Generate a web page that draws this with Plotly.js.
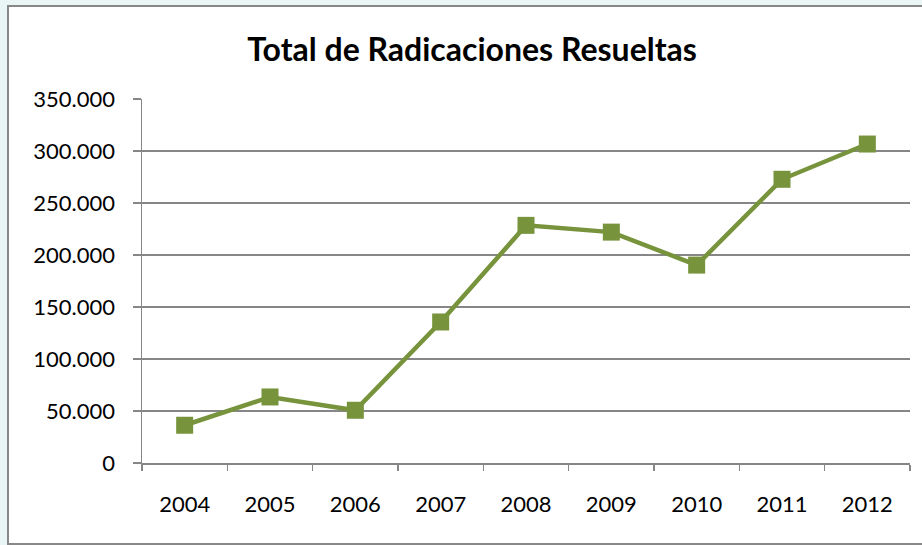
<!DOCTYPE html>
<html>
<head>
<meta charset="utf-8">
<script src="https://cdn.plot.ly/plotly-3.0.1.min.js"></script>
<style>html,body{margin:0;padding:0;background:#EAF6F6;}#chart{width:922px;height:545px;}</style>
</head>
<body>
<div id="chart"></div>
<script>
const years = ["2004","2005","2006","2007","2008","2009","2010","2011","2012"];
const resueltas = [36300, 63500, 50700, 135600, 228500, 222000, 190300, 272800, 306700];
const yTicks = [0, 50000, 100000, 150000, 200000, 250000, 300000, 350000];
const chartTitle = "Total de Radicaciones Resueltas";

const trace = {
  x: years,
  y: resueltas,
  type: "scatter",
  mode: "lines+markers",
  line: {color: "#77933C", width: 4.5},
  marker: {symbol: "square", size: 17, color: "#77933C"},
  hoverinfo: "x+y"
};

const layout = {
  width: 922,
  height: 545,
  paper_bgcolor: "#EAF6F6",
  plot_bgcolor: "#FFFFFF",
  separators: ",.",
  margin: {l: 142, r: 12, t: 99, b: 82, pad: 0},
  font: {family: "Lato, 'Open Sans', sans-serif", size: 22, color: "#000000"},
  title: {
    text: "<b>" + chartTitle + "</b>",
    font: {family: "Lato, 'Open Sans', sans-serif", size: 32, color: "#000000"},
    x: 0.512, xanchor: "center", xref: "container",
    y: 47, yref: "container", yanchor: "middle"
  },
  showlegend: false,
  xaxis: {
    type: "category",
    range: [-0.5, years.length - 0.5],
    autorange: false,
    tickson: "boundaries",
    ticks: "outside",
    ticklen: 6,
    tickwidth: 1.5,
    tickcolor: "#868686",
    showline: true,
    linecolor: "#868686",
    linewidth: 1.5,
    showgrid: false,
    zeroline: false,
    ticklabelstandoff: 21,
    tickfont: {size: 22},
    fixedrange: true
  },
  yaxis: {
    range: [0, 350000],
    autorange: false,
    tickvals: yTicks,
    tickformat: ",d",
    ticks: "outside",
    ticklen: 8,
    tickwidth: 1.5,
    tickcolor: "#868686",
    showline: true,
    linecolor: "#868686",
    linewidth: 1.5,
    showgrid: true,
    gridcolor: "#868686",
    gridwidth: 1.5,
    zeroline: false,
    ticklabelstandoff: 13,
    tickfont: {size: 22},
    fixedrange: true
  },
  shapes: [{
    type: "rect", xref: "paper", yref: "paper", layer: "below",
    x0: (8 - 142) / 768, x1: (940 - 142) / 768,
    y0: (463 - 544) / 364, y1: 1 + (99 - 6) / 364,
    fillcolor: "#FFFFFF",
    line: {color: "#888888", width: 2}
  }]
};

Plotly.newPlot("chart", [trace], layout, {displayModeBar: false, staticPlot: true});
</script>
</body>
</html>
